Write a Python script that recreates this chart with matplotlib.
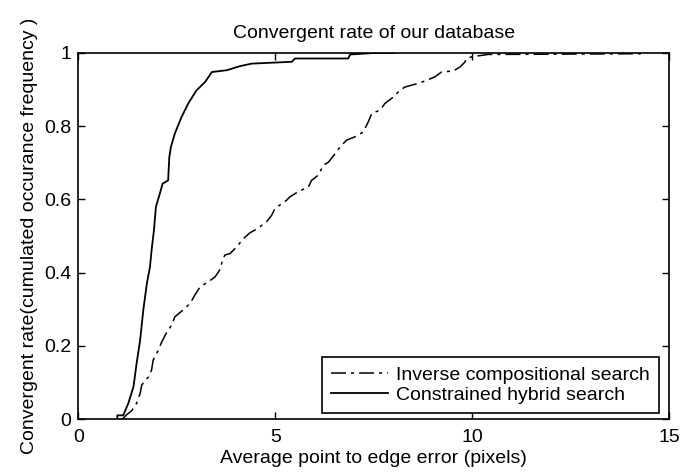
import numpy as np
import matplotlib
matplotlib.use('Agg')
import matplotlib.pyplot as plt

plt.rcParams['font.family'] = ['Liberation Sans', 'DejaVu Sans']

# Constrained hybrid search (solid)
hyb_x = [0.99, 0.99, 1.14, 1.27, 1.40, 1.48, 1.57, 1.65, 1.74, 1.82, 1.86, 1.92,
         1.97, 2.07, 2.14, 2.28, 2.31, 2.35, 2.45, 2.62, 2.79, 3.00, 3.22, 3.39,
         3.77, 4.10, 4.40, 5.42, 5.50, 6.85, 6.90, 7.50, 8.00]
hyb_y = [0.0, 0.01, 0.01, 0.043, 0.088, 0.152, 0.216, 0.298, 0.370, 0.416, 0.461, 0.516,
         0.580, 0.616, 0.643, 0.652, 0.716, 0.743, 0.780, 0.825, 0.862, 0.898, 0.921, 0.948,
         0.953, 0.964, 0.971, 0.976, 0.985, 0.985, 0.996, 1.0, 1.0]

# Inverse compositional search (dash-dot)
inv_x = [1.12, 1.23, 1.35, 1.48, 1.57, 1.61, 1.78, 1.86, 1.90, 2.03, 2.12, 2.23,
         2.37, 2.45, 2.66, 2.84, 2.96, 3.09, 3.30, 3.47, 3.60, 3.66, 3.72, 3.85,
         4.02, 4.19, 4.36, 4.53, 4.78, 4.91, 4.99, 5.29, 5.37, 5.58, 5.84, 5.92,
         6.09, 6.22, 6.35, 6.52, 6.64, 6.81, 7.02, 7.23, 7.36, 7.45, 7.66, 7.78,
         8.00, 8.16, 8.29, 8.59, 8.84, 9.05, 9.22, 9.52, 9.69, 9.81, 9.86, 10.0,
         10.4, 14.3, 14.35]
inv_y = [0.0, 0.012, 0.022, 0.043, 0.070, 0.093, 0.115, 0.134, 0.161, 0.188, 0.211, 0.234,
         0.257, 0.279, 0.298, 0.316, 0.339, 0.361, 0.375, 0.388, 0.409, 0.434, 0.448, 0.452,
         0.470, 0.493, 0.509, 0.519, 0.539, 0.557, 0.575, 0.598, 0.607, 0.621, 0.634, 0.652,
         0.666, 0.693, 0.702, 0.725, 0.743, 0.762, 0.771, 0.784, 0.812, 0.835, 0.844, 0.862,
         0.880, 0.898, 0.907, 0.916, 0.925, 0.935, 0.948, 0.951, 0.962, 0.975, 0.985, 0.990,
         0.996, 0.998, 1.0]

x_ticks = [0, 5, 10, 15]
y_ticks = [0, 0.2, 0.4, 0.6, 0.8, 1]
y_tick_labels = ['0', '0.2', '0.4', '0.6', '0.8', '1']

fig = plt.figure(figsize=(6.83, 4.72), dpi=100)
ax = fig.add_axes([78.3 / 683, 53 / 472, 591 / 683, 366 / 472])

ax.plot(inv_x, inv_y, color='black', lw=1.1, linestyle=(0, (9.8, 3.3, 2, 3.3)),
        label='Inverse compositional search')
ax.plot(hyb_x, hyb_y, color='black', lw=1.3, label='Constrained hybrid search')

ax.set_xlim(0, 15)
ax.set_ylim(0, 1)
ax.set_xticks(x_ticks)
ax.set_yticks(y_ticks)
ax.set_yticklabels(y_tick_labels)
ax.tick_params(direction='in', length=5, width=1, top=True, right=True,
               labelsize=14)
ax.tick_params(axis='x', pad=7)
ax.tick_params(axis='y', pad=5)
for s in ax.spines.values():
    s.set_linewidth(1.2)

ax.set_title('Convergent rate of our database', fontsize=14, pad=11)
ax.set_xlabel('Average point to edge error (pixels)', fontsize=14, labelpad=3)
ax.set_ylabel('Convergent rate(cumulated occurance frequency )', fontsize=14)
ax.yaxis.set_label_coords(-0.068, 0.5)

leg = ax.legend(loc='lower right', bbox_to_anchor=(0.9826, 0.0164), borderaxespad=0,
                fontsize=14, handlelength=2.9, handletextpad=0.43, borderpad=0.48,
                labelspacing=0.1, fancybox=False, framealpha=1, edgecolor='black')
leg.get_frame().set_linewidth(1.2)

fig.savefig('out.png', dpi=100)
